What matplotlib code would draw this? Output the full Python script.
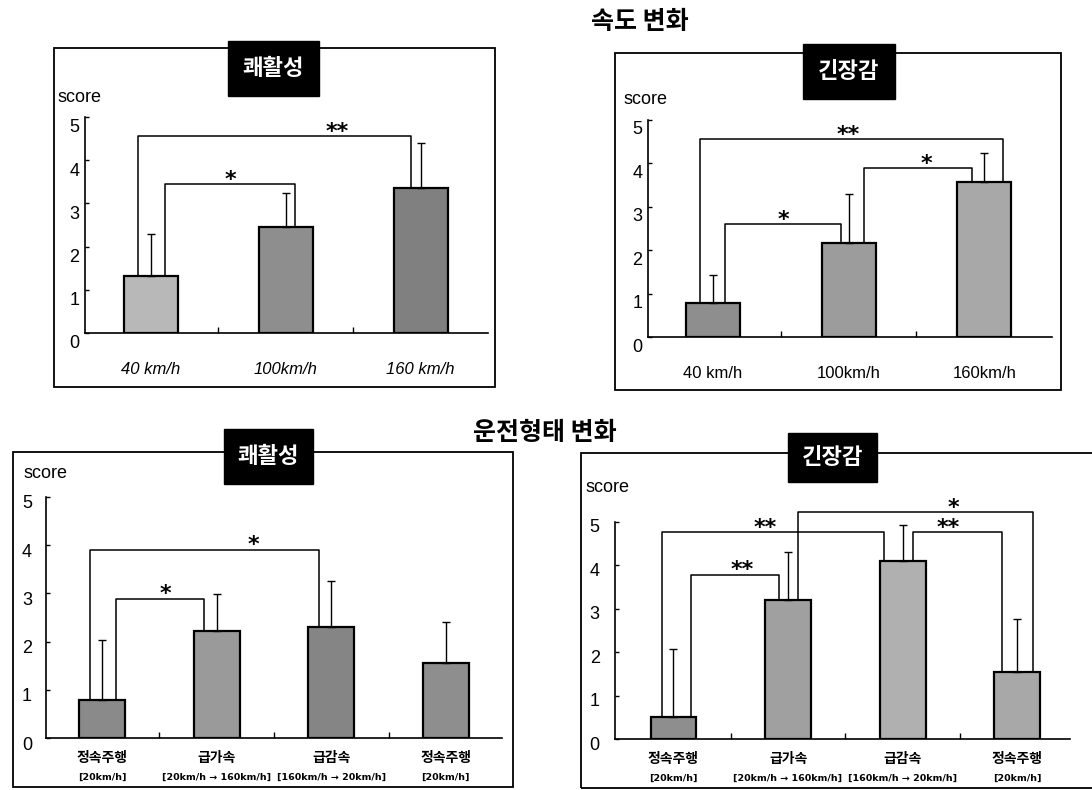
import matplotlib
matplotlib.use("Agg")
import matplotlib.pyplot as plt
import matplotlib.transforms as mtransforms
from matplotlib.patches import Rectangle

plt.rcParams['font.family'] = ['Liberation Sans', 'DejaVu Sans', 'Noto Sans CJK KR']

# ---- data ----
speed_labels = ["40 km/h", "100km/h", "160 km/h"]
speed_pleasant_mean = [1.32, 2.45, 3.35]
speed_pleasant_sd = [0.98, 0.80, 1.05]
speed_tension_mean = [0.78, 2.17, 3.57]
speed_tension_sd = [0.65, 1.13, 0.67]

drive_labels = ["정속주행", "급가속", "급감속", "정속주행"]
drive_sub = ["[20km/h]", "[20km/h → 160km/h]", "[160km/h → 20km/h]", "[20km/h]"]
drive_pleasant_mean = [0.79, 2.22, 2.30, 1.55]
drive_pleasant_sd = [1.24, 0.76, 0.95, 0.85]
drive_tension_mean = [0.51, 3.20, 4.09, 1.55]
drive_tension_sd = [1.57, 1.10, 0.85, 1.22]

# significance brackets: (bar i, leg shift, bar j, leg shift, height, stars, star x)
speed_pleasant_sig = [(0, -0.10, 2, -0.07, 4.55, "**", 1.38),
                      (0, 0.10, 1, 0.07, 3.44, "*", 0.59)]
speed_tension_sig = [(0, -0.10, 2, 0.14, 4.56, "**", 1.00),
                     (0, 0.09, 1, -0.06, 2.60, "*", 0.52),
                     (1, 0.11, 2, -0.09, 3.89, "*", 1.57)]
drive_pleasant_sig = [(0, -0.11, 2, -0.11, 3.91, "*", 1.32),
                      (0, 0.12, 1, -0.11, 2.88, "*", 0.55)]
drive_tension_sig = [(0, 0.15, 1, -0.08, 3.79, "**", 0.60),
                     (0, -0.10, 2, -0.16, 4.76, "**", 0.80),
                     (1, 0.09, 3, 0.14, 5.22, "*", 2.44),
                     (2, 0.09, 3, -0.13, 4.76, "**", 2.40)]

W, H = 1092, 790
fig = plt.figure(figsize=(W / 100, H / 100), dpi=100)


def fbox(x0, y0, x1, y1):
    # pixel box (top-left origin) -> figure fraction
    return [x0 / W, 1 - y1 / H, (x1 - x0) / W, (y1 - y0) / H]


def frame(x0, y0, x1, y1, title, tb):
    l, b, w, h = fbox(x0, y0, x1, y1)
    fig.patches.append(Rectangle((l, b), w, h, transform=fig.transFigure,
                                 fill=False, ec="black", lw=1.3, zorder=0))
    l, b, w, h = fbox(*tb)
    fig.patches.append(Rectangle((l, b), w, h, transform=fig.transFigure,
                                 fc="black", ec="black", zorder=5))
    fig.text(l + w / 2, b + h / 2, title, color="white", fontsize=16,
             fontweight="bold", ha="center", va="center",
             family=["Noto Sans CJK KR"], zorder=6)


def panel(box, means, sds, colors, sig, width, lab_shift, pad, xlim):
    ax = fig.add_axes(fbox(*box))
    x = list(range(len(means)))
    ax.bar(x, means, width=width, color=colors, edgecolor="black", lw=1.6, zorder=2)
    ax.errorbar(x, means, yerr=[[0] * len(sds), sds], fmt="none", ecolor="black",
                elinewidth=1.0, capsize=3, capthick=1.0, zorder=3)
    for i, di, j, dj, h, s, sx in sig:
        xa, xb = i + di, j + dj
        ax.plot([xa, xa, xb, xb], [means[i], h, h, means[j]], color="black",
                lw=1.1, clip_on=False, zorder=4)
        ax.text(sx, h + 0.1, s, ha="center", va="center", fontsize=16,
                fontweight="bold", family=["DejaVu Sans"], clip_on=False)
    ax.set_ylim(0, 5)
    ax.set_xlim(*xlim)
    ax.set_yticks(range(6))
    ax.set_xticks([])
    ax.set_xticks([k + 0.5 for k in range(len(means) - 1)], minor=True)
    ax.tick_params(axis="x", which="minor", direction="in", length=4, width=1)
    ax.tick_params(axis="y", direction="in", length=3, width=1, labelsize=13, pad=pad)
    for sp in ["top", "right"]:
        ax.spines[sp].set_visible(False)
    for sp in ["left", "bottom"]:
        ax.spines[sp].set_linewidth(1.2)
    off = mtransforms.ScaledTranslation(0, -lab_shift / 100, fig.dpi_scale_trans)
    for lab in ax.get_yticklabels():
        lab.set_transform(lab.get_transform() + off)
    ax.patch.set_alpha(0)
    return ax


# main titles
fig.text(640 / W, 1 - 22 / H, "속도 변화", fontsize=18, fontweight="bold",
         ha="center", va="center", family=["Noto Sans CJK KR"])
fig.text(545 / W, 1 - 433 / H, "운전형태 변화", fontsize=18, fontweight="bold",
         ha="center", va="center", family=["Noto Sans CJK KR"])

# frames
frame(54, 48, 495, 387, "쾌활성", (228, 41, 319, 96))
frame(615, 53, 1061, 390, "긴장감", (803, 44, 895, 99))
frame(13, 452, 513, 787, "쾌활성", (224, 429, 313, 484))
frame(581, 453, 1100, 788, "긴장감", (788, 433, 877, 482))

# score labels
for sx, sy in [(58, 97), (623, 99), (23, 473), (585, 488)]:
    fig.text(sx / W, 1 - sy / H, "score", fontsize=13, ha="left", va="center")

# top-left
ax1 = panel((85, 117, 488, 333), speed_pleasant_mean, speed_pleasant_sd,
            ["#b8b8b8", "#8e8e8e", "#808080"], speed_pleasant_sig, 0.4, 9, 4, (-0.49, 2.5))
for k, t in enumerate(speed_labels):
    ax1.text(k, -0.17, t, transform=ax1.get_xaxis_transform(), ha="center",
             va="center", fontsize=12, style="italic")

# top-right
ax2 = panel((648, 120, 1052, 337), speed_tension_mean, speed_tension_sd,
            ["#8e8e8e", "#9c9c9c", "#a8a8a8"], speed_tension_sig, 0.4, 8, 4, (-0.48, 2.5))
for k, t in enumerate(["40 km/h", "100km/h", "160km/h"]):
    ax2.text(k, -0.17, t, transform=ax2.get_xaxis_transform(),
             ha="center", va="center", fontsize=12)

# bottom-left
ax3 = panel((46, 497, 502, 738), drive_pleasant_mean, drive_pleasant_sd,
            ["#8a8a8a", "#9a9a9a", "#858585", "#8e8e8e"], drive_pleasant_sig, 0.4, 5, 10, (-0.49, 3.49))
# bottom-right
ax4 = panel((615, 522, 1070, 739), drive_tension_mean, drive_tension_sd,
            ["#8e8e8e", "#a0a0a0", "#b0b0b0", "#a8a8a8"], drive_tension_sig, 0.4, 4, 11, (-0.51, 3.46))

for ax, hpx in [(ax3, 241), (ax4, 217)]:
    for k in range(4):
        ax.text(k, -20 / hpx, drive_labels[k], transform=ax.get_xaxis_transform(),
                ha="center", va="center", fontsize=10, fontweight="bold",
                family=["Noto Sans CJK KR", "DejaVu Sans"])
        ax.text(k, -39 / hpx, drive_sub[k], transform=ax.get_xaxis_transform(),
                ha="center", va="center", fontsize=6.8, fontweight="bold",
                family=["DejaVu Sans"])

fig.savefig("out.png", dpi=100)
